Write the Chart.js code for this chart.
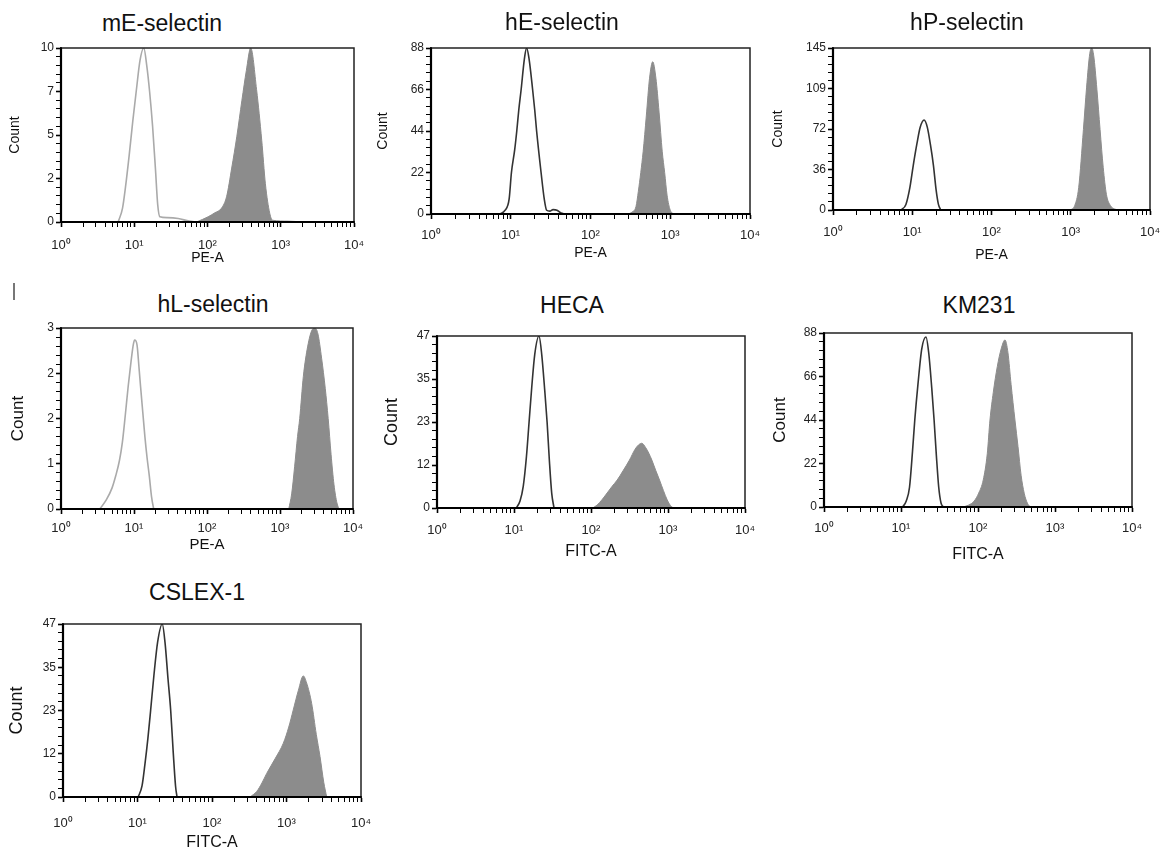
<!DOCTYPE html>
<html>
<head>
<meta charset="utf-8">
<script src="https://cdn.jsdelivr.net/npm/chart.js@4.4.1/dist/chart.umd.min.js"></script>
<style>
  body { margin: 0; background: #fff; width: 1163px; height: 860px; position: relative; overflow: hidden; font-family: "Liberation Sans", Arial, sans-serif; }
  .panel { position: absolute; }
  .title { position: absolute; transform: translate(-50%, -50%); white-space: nowrap; font-size: 23px; line-height: 1; color: #111; }
  .mark { position: absolute; left: 13px; top: 283px; width: 2px; height: 17px; background: #777; }
</style>
</head>
<body>
<div class="mark"></div>
<script>
// x axis (log decades)
const xDecades = [1, 10, 100, 1000, 10000];
const xTickLabels = ["10⁰", "10¹", "10²", "10³", "10⁴"];

// mE-selectin
const mE_yLabels = ["0", "2", "5", "7", "10"];
const mE_ctrlX = [6.03, 6.92, 7.59, 8.51, 9.55, 10.7, 12.0, 13.5, 14.8, 16.2, 17.8, 19.5, 20.9, 22.4, 28.2, 39.8, 56.2, 70.8];
const mE_ctrlY = [0, 0.8, 2, 3.8, 5.8, 7.6, 9.3, 10, 9.0, 7.5, 5.5, 3, 1, 0.3, 0.25, 0.2, 0.05, 0];
const mE_posX = [70.8, 102, 126, 155, 182, 214, 251, 295, 339, 389, 468, 550, 617, 708, 776, 1259, 1995];
const mE_posY = [0, 0.3, 0.53, 0.79, 1.45, 3.1, 4.9, 7.0, 8.7, 10, 7.6, 4.7, 2.2, 0.5, 0.1, 0.05, 0];

// hE-selectin
const hE_yLabels = ["0", "22", "44", "66", "88"];
const hE_ctrlX = [7.24, 8.51, 9.55, 10.2, 11.2, 11.9, 12.6, 13.5, 14.8, 15.8, 17.0, 18.8, 20.0, 21.1, 24.0, 26.3, 28.2, 30.9, 33.9, 38.0, 42.7, 47.9];
const hE_ctrlY = [0, 2, 8, 22, 34, 44, 55, 66, 82, 88, 82, 66, 55, 44, 22, 8, 2, 1.5, 2.3, 2, 0.5, 0];
const hE_posX = [295, 331, 372, 398, 427, 457, 501, 550, 603, 661, 724, 794, 851, 912, 1000, 1096];
const hE_posY = [0, 1, 4, 12, 22, 33, 52, 72, 80.7, 72, 54, 33, 22, 10, 2, 0];

// hP-selectin
const hP_yLabels = ["0", "36", "72", "109", "145"];
const hP_ctrlX = [7.24, 8.32, 9.33, 10.3, 11.5, 12.6, 14.1, 15.5, 17.0, 18.5, 20.0, 21.4, 22.9];
const hP_ctrlY = [0, 5, 20, 40, 60, 74, 80.5, 74, 58, 40, 18, 5, 0];
const hP_posX = [1000, 1122, 1259, 1445, 1585, 1738, 1841, 1950, 2138, 2344, 2570, 2818, 3162, 3548, 3981];
const hP_posY = [0, 4, 20, 72, 110, 140, 145, 138, 108, 72, 38, 14, 4, 1, 0];

// hL-selectin
const hL_yLabels = ["0", "1", "2", "2", "3"];
const hL_ctrlX = [3.39, 4.17, 5.01, 5.62, 6.31, 6.92, 7.59, 8.32, 9.12, 9.77, 10.2, 11.0, 11.7, 12.3, 13.2, 14.1, 15.1, 16.2, 17.4, 18.6];
const hL_ctrlY = [0, 0.15, 0.35, 0.55, 0.8, 1.1, 1.55, 2.03, 2.45, 2.72, 2.8, 2.72, 2.35, 2.03, 1.6, 1.2, 0.85, 0.55, 0.2, 0];
const hL_posX = [1318, 1445, 1585, 1738, 1862, 2089, 2399, 2754, 3020, 3311, 3715, 4169, 4571, 5012, 5495, 6026, 6457];
const hL_posY = [0, 0.25, 0.7, 1.2, 1.5, 2.2, 2.7, 2.97, 3.0, 2.9, 2.5, 2.0, 1.5, 0.9, 0.4, 0.1, 0];

// HECA
const heca_yLabels = ["0", "12", "23", "35", "47"];
const heca_ctrlX = [10.7, 12.0, 13.2, 14.5, 15.7, 17.0, 18.6, 21.1, 22.9, 25.1, 26.9, 28.8, 30.9, 33.1];
const heca_ctrlY = [0, 2, 6, 14, 23.5, 33, 42, 47, 42, 32, 23.5, 13, 4, 0];
const heca_posX = [105, 120, 138, 158, 186, 219, 263, 316, 372, 417, 457, 513, 562, 617, 692, 776, 871, 977, 1072, 1175];
const heca_posY = [0, 0.8, 2.2, 3.8, 5.8, 7.65, 10.3, 13.1, 16, 17.3, 17.7, 16.5, 15, 13.1, 10.3, 7.65, 4.8, 2.2, 0.7, 0];

// KM231
const km_yLabels = ["0", "22", "44", "66", "88"];
const km_ctrlX = [10.5, 11.7, 12.9, 14.1, 15.1, 16.6, 18.6, 21.1, 22.9, 25.1, 26.9, 28.8, 30.9, 33.1, 35.5];
const km_ctrlY = [0, 3, 10, 28, 44, 62, 80, 86, 78, 60, 44, 26, 10, 2, 0];
const km_posX = [63.1, 75.9, 89.1, 102, 117, 132, 143, 158, 178, 200, 224, 245, 269, 302, 331, 363, 398, 437, 479];
const km_posY = [0, 1, 3, 7, 13.7, 27, 44, 58, 71, 80, 84.5, 78, 62, 44, 30.5, 16, 7, 2, 0];

// CSLEX-1
const cs_yLabels = ["0", "12", "23", "35", "47"];
const cs_ctrlX = [10.2, 11.5, 12.6, 13.8, 15.0, 16.6, 18.6, 21.5, 23.4, 25.7, 27.9, 30.2, 32.4, 33.9];
const cs_ctrlY = [0, 3, 9, 16, 23.5, 33, 42, 47, 42, 32, 23.5, 12, 3, 0];
const cs_posX = [324, 398, 468, 542, 708, 906, 1072, 1230, 1445, 1679, 1862, 2178, 2512, 2818, 3162, 3467];
const cs_posY = [0, 1.5, 3.8, 6.4, 10.5, 14.6, 19, 23.6, 29, 32.9, 31, 25.4, 17, 11, 4, 0];

// layout of each panel (plot box in page pixels)
const panels = [
  { title: "mE-selectin", tx: 162, ty: 23, l: 61, t: 48, r: 354, b: 222, yMax: 10, yLabels: mE_yLabels,
    xTitle: "PE-A", xFont: 14, xGap: 36, tickGap: 23, countFont: 14, countGap: 46, ctrlColor: "#aaaaaa",
    ctrlX: mE_ctrlX, ctrlY: mE_ctrlY, posX: mE_posX, posY: mE_posY },
  { title: "hE-selectin", tx: 562, ty: 22, l: 431, t: 48, r: 750, b: 214, yMax: 88, yLabels: hE_yLabels,
    xTitle: "PE-A", xFont: 14, xGap: 39, tickGap: 21, countFont: 14, countGap: 48, ctrlColor: "#333333",
    ctrlX: hE_ctrlX, ctrlY: hE_ctrlY, posX: hE_posX, posY: hE_posY },
  { title: "hP-selectin", tx: 967, ty: 22, l: 833, t: 48, r: 1150, b: 210, yMax: 145, yLabels: hP_yLabels,
    xTitle: "PE-A", xFont: 14, xGap: 45, tickGap: 22, countFont: 14, countGap: 55, ctrlColor: "#333333",
    ctrlX: hP_ctrlX, ctrlY: hP_ctrlY, posX: hP_posX, posY: hP_posY },
  { title: "hL-selectin", tx: 213, ty: 304, l: 61, t: 328, r: 353, b: 509, yMax: 3, yLabels: hL_yLabels,
    xTitle: "PE-A", xFont: 15, xGap: 36, tickGap: 19, countFont: 17, countGap: 43, ctrlColor: "#aaaaaa",
    ctrlX: hL_ctrlX, ctrlY: hL_ctrlY, posX: hL_posX, posY: hL_posY },
  { title: "HECA", tx: 572, ty: 305, l: 437, t: 336, r: 745, b: 508, yMax: 47, yLabels: heca_yLabels,
    xTitle: "FITC-A", xFont: 16, xGap: 44, tickGap: 22, countFont: 18, countGap: 45, ctrlColor: "#333333",
    ctrlX: heca_ctrlX, ctrlY: heca_ctrlY, posX: heca_posX, posY: heca_posY },
  { title: "KM231", tx: 979, ty: 305, l: 824, t: 333, r: 1132, b: 507, yMax: 88, yLabels: km_yLabels,
    xTitle: "FITC-A", xFont: 16, xGap: 48, tickGap: 21, countFont: 17, countGap: 44, ctrlColor: "#333333",
    ctrlX: km_ctrlX, ctrlY: km_ctrlY, posX: km_posX, posY: km_posY },
  { title: "CSLEX-1", tx: 197, ty: 592, l: 63, t: 624, r: 361, b: 797, yMax: 47, yLabels: cs_yLabels,
    xTitle: "FITC-A", xFont: 16, xGap: 46, tickGap: 26, countFont: 18, countGap: 46, ctrlColor: "#333333",
    ctrlX: cs_ctrlX, ctrlY: cs_ctrlY, posX: cs_posX, posY: cs_posY },
];

// minor + major ticks on the log axis
const xTickValues = [];
xDecades.slice(0, -1).forEach(d => { for (let k = 1; k <= 9; k++) xTickValues.push(k * d); });
xTickValues.push(xDecades[xDecades.length - 1]);

function toPoints(xs, ys) {
  return xs.map((x, i) => ({ x: x, y: ys[i] }));
}

// box round the plot area
const framePlugin = {
  id: "frame",
  afterDatasetsDraw(chart) {
    const { ctx, chartArea: a } = chart;
    ctx.save();
    ctx.strokeStyle = "#222";
    ctx.lineWidth = 1.5;
    ctx.strokeRect(a.left, a.top, a.right - a.left, a.bottom - a.top);
    ctx.strokeStyle = "#000";
    ctx.lineWidth = 2.2;
    ctx.beginPath();
    ctx.moveTo(a.left, a.top);
    ctx.lineTo(a.left, a.bottom);
    ctx.lineTo(a.right, a.bottom);
    ctx.stroke();
    ctx.restore();
  }
};

Chart.defaults.font.family = '"Liberation Sans", Arial, sans-serif';

const yW = 70, xH = 60, padT = 10, padR = 34;
const xTickFont = 13;

panels.forEach(p => {
  const div = document.createElement("div");
  div.className = "panel";
  div.style.left = (p.l - yW) + "px";
  div.style.top = (p.t - padT) + "px";
  div.style.width = (p.r - p.l + yW + padR) + "px";
  div.style.height = (p.b - p.t + padT + xH) + "px";
  const canvas = document.createElement("canvas");
  div.appendChild(canvas);
  document.body.appendChild(div);

  const title = document.createElement("div");
  title.className = "title";
  title.style.left = p.tx + "px";
  title.style.top = p.ty + "px";
  title.textContent = p.title;
  document.body.appendChild(title);

  new Chart(canvas, {
    type: "line",
    data: {
      datasets: [
        {
          data: toPoints(p.posX, p.posY),
          fill: "origin",
          backgroundColor: "#8c8c8c",
          borderColor: "#8c8c8c",
          borderWidth: 1,
          pointRadius: 0,
          cubicInterpolationMode: "monotone",
        },
        {
          data: toPoints(p.ctrlX, p.ctrlY),
          fill: false,
          borderColor: p.ctrlColor,
          borderWidth: 1.6,
          pointRadius: 0,
          cubicInterpolationMode: "monotone",
        },
      ],
    },
    options: {
      responsive: true,
      maintainAspectRatio: false,
      animation: false,
      layout: { padding: { top: padT, right: padR, left: 0, bottom: 0 } },
      plugins: { legend: { display: false }, tooltip: { enabled: false } },
      scales: {
        x: {
          type: "logarithmic",
          min: 1,
          max: 10000,
          afterBuildTicks: s => {
            s.ticks = xTickValues.map(v => ({ value: v, major: xDecades.includes(v) }));
          },
          afterFit: s => { s.height = xH; },
          ticks: {
            autoSkip: false,
            maxRotation: 0,
            padding: p.tickGap - 5 - xTickFont * 0.6,
            font: { size: xTickFont },
            color: "#222",
            callback: v => {
              const i = xDecades.indexOf(v);
              return i >= 0 ? xTickLabels[i] : "";
            },
          },
          grid: {
            drawOnChartArea: false,
            tickLength: 5,
            tickColor: "#000",
            tickWidth: c => (c.tick && xDecades.includes(c.tick.value) ? 1.6 : 1),
          },
          border: { color: "#000", width: 2 },
          title: {
            display: true,
            text: p.xTitle,
            font: { size: p.xFont },
            color: "#111",
            padding: { top: 0, bottom: xH - p.xGap - p.xFont * 0.6 },
          },
        },
        y: {
          min: 0,
          max: p.yMax,
          afterBuildTicks: s => {
            const t = [];
            for (let i = 0; i <= 20; i++) t.push({ value: p.yMax * i / 20 });
            s.ticks = t;
          },
          afterFit: s => { s.width = yW; },
          ticks: {
            autoSkip: false,
            padding: 2,
            font: { size: 12 },
            color: "#222",
            callback: (v, i) => (i % 5 === 0 ? p.yLabels[i / 5] : ""),
          },
          grid: {
            drawOnChartArea: false,
            tickLength: 5,
            tickColor: "#000",
            tickWidth: c => (c.index % 5 === 0 ? 1.6 : 1),
          },
          border: { color: "#000", width: 2 },
          title: {
            display: true,
            text: "Count",
            font: { size: p.countFont },
            color: "#111",
            padding: { top: yW - p.countGap - p.countFont * 0.6, bottom: 0 },
          },
        },
      },
    },
    plugins: [framePlugin],
  });
});
</script>
</body>
</html>
